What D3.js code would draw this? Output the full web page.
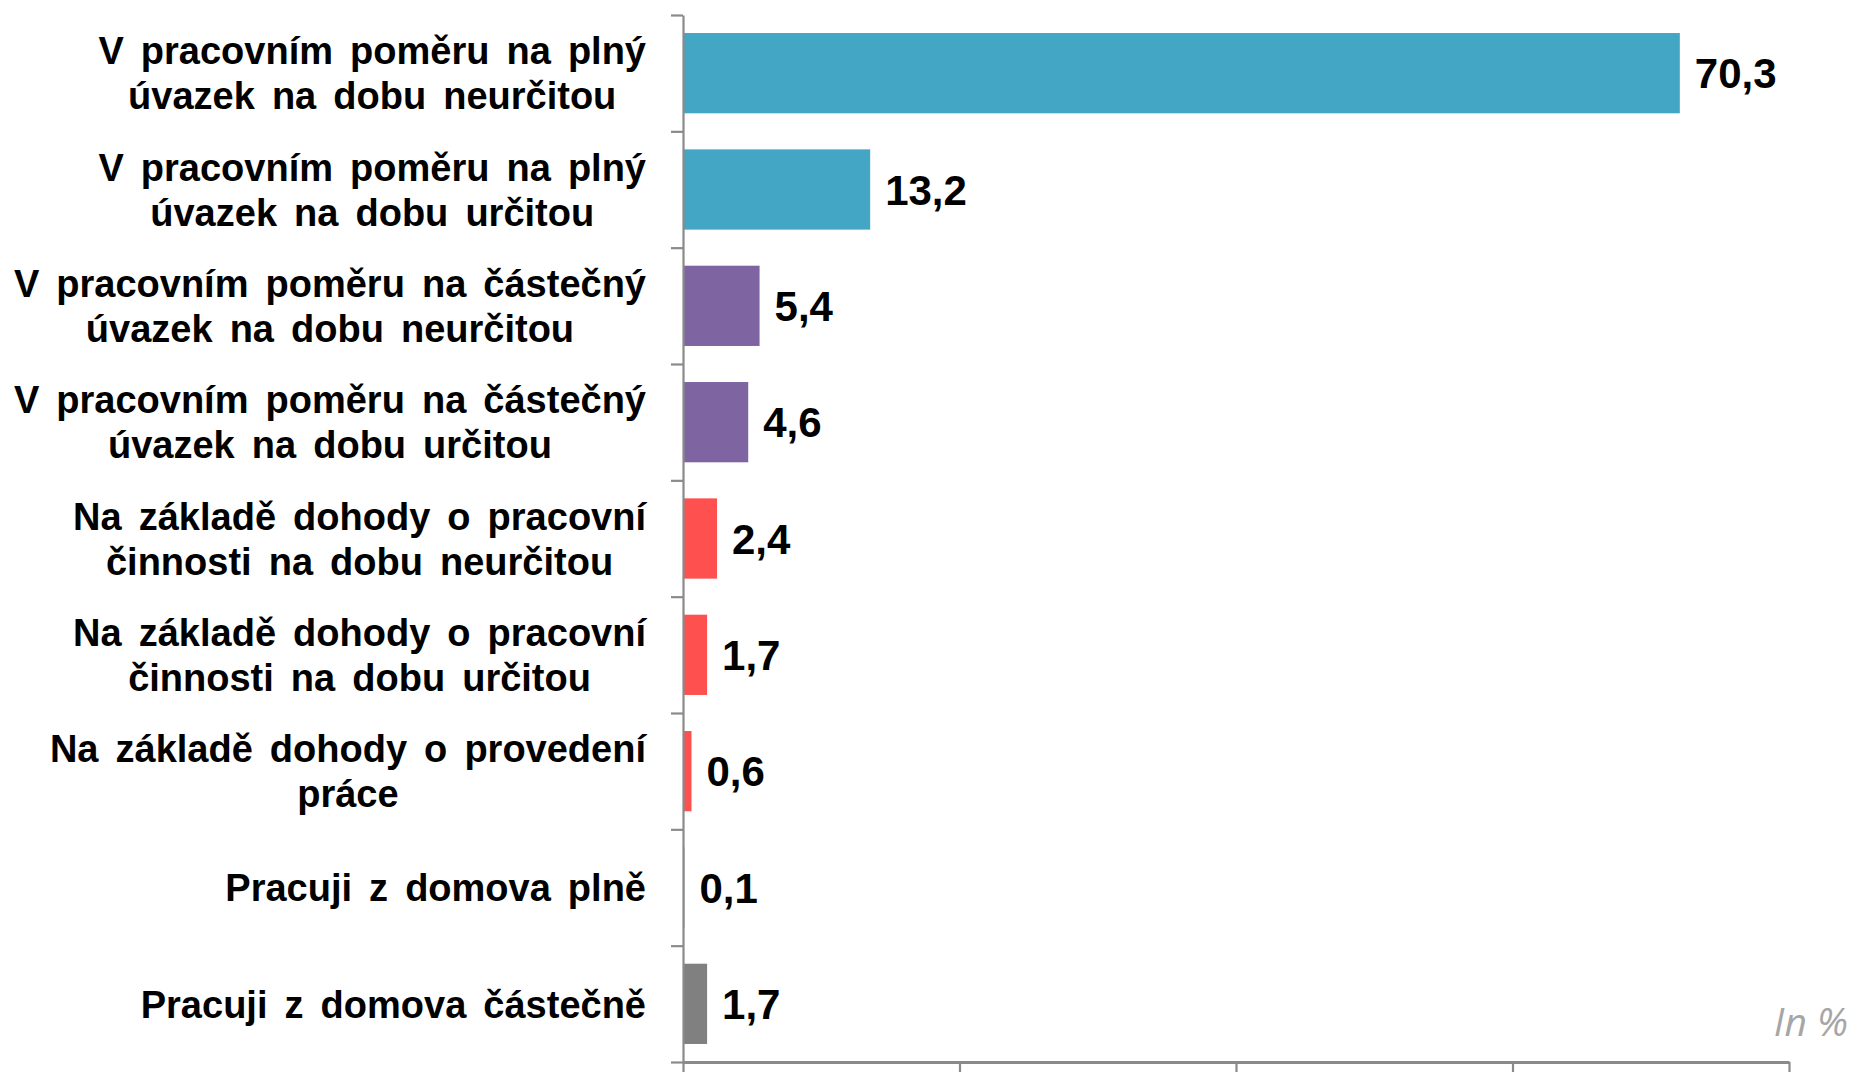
<!DOCTYPE html>
<html>
<head>
<meta charset="utf-8">
<script src="https://cdn.jsdelivr.net/npm/d3@7"></script>
<style>
  html, body { margin: 0; padding: 0; background: #ffffff; }
  svg { display: block; }
</style>
</head>
<body>
<svg id="chart" width="1854" height="1072"></svg>
<script>
// ---- data ----
const categories = [
  ["V pracovním poměru na plný", "úvazek na dobu neurčitou"],
  ["V pracovním poměru na plný", "úvazek na dobu určitou"],
  ["V pracovním poměru na částečný", "úvazek na dobu neurčitou"],
  ["V pracovním poměru na částečný", "úvazek na dobu určitou"],
  ["Na základě dohody o pracovní", "činnosti na dobu neurčitou"],
  ["Na základě dohody o pracovní", "činnosti na dobu určitou"],
  ["Na základě dohody o provedení", "práce"],
  ["Pracuji z domova plně"],
  ["Pracuji z domova částečně"]
];
const values = [70.3, 13.2, 5.4, 4.6, 2.4, 1.7, 0.6, 0.1, 1.7];
const groups = ["full", "full", "part", "part", "agreement", "agreement", "agreement", "home", "home"];
const groupColors = { full: "#42a6c4", part: "#7f64a2", agreement: "#ff5050", home: "#808080" };
const xMax = 78;
const xTickValues = [0, 19.5, 39, 58.5, 78];
const unitLabel = "In %";

// ---- layout ----
const svg = d3.select("#chart");
const x0 = 683, x1 = 1789, yTop = 15, yBottom = 1062;
const axisColor = "#8a8a8a";

const x = d3.scaleLinear().domain([0, xMax]).range([x0, x1]);
const idx = d3.range(categories.length);
const y = d3.scaleBand().domain(idx).range([yTop, yBottom]).paddingInner(0.31).paddingOuter(0.155);
const yEdge = d3.scaleLinear().domain([0, categories.length]).range([yTop, yBottom]);

// bars
svg.append("g").selectAll("rect").data(idx).join("rect")
  .attr("x", x(0))
  .attr("y", i => y(i))
  .attr("width", i => x(values[i]) - x(0))
  .attr("height", y.bandwidth())
  .attr("fill", i => groupColors[groups[i]]);

// y axis (ticks between categories)
const yAxis = svg.append("g").attr("transform", `translate(${x0},0)`)
  .call(d3.axisLeft(yEdge).tickValues(d3.range(categories.length + 1)).tickFormat("").tickSizeInner(12).tickSizeOuter(0));
yAxis.selectAll("path, line").attr("stroke", axisColor).attr("stroke-width", 2.2);

// x axis
const xAxis = svg.append("g").attr("transform", `translate(0,${yBottom})`)
  .call(d3.axisBottom(x).tickValues(xTickValues).tickFormat("").tickSizeInner(12).tickSizeOuter(0));
xAxis.select("path").attr("stroke", axisColor).attr("stroke-width", 3.2);
xAxis.selectAll("line").attr("stroke", axisColor).attr("stroke-width", 2.2);

// value labels
const fmt = d3.format(".1f");
svg.append("g").selectAll("text").data(idx).join("text")
  .attr("x", i => x(values[i]) + 15)
  .attr("y", i => y(i) + y.bandwidth() / 2)
  .attr("dy", "0.36em")
  .attr("font-family", "'Liberation Sans', Arial, sans-serif")
  .attr("font-weight", "bold")
  .attr("font-size", 42)
  .attr("fill", "#000")
  .text(i => fmt(values[i]).replace(".", ","));

// category labels
const labelRight = 646;
const lineH = 45;
const lg = svg.append("g");
idx.forEach(i => {
  const lines = categories[i];
  const cy = y(i) + y.bandwidth() / 2;
  const t = lg.append("text")
    .attr("font-family", "'Liberation Sans', Arial, sans-serif")
    .attr("font-weight", "bold")
    .attr("font-size", 38)
    .attr("word-spacing", 6.5)
    .attr("fill", "#000")
    .attr("text-anchor", "middle");
  const spans = lines.map((s, k) => t.append("tspan")
    .attr("y", cy + (k - (lines.length - 1) / 2) * lineH)
    .attr("dy", "0.36em")
    .text(s));
  const w = d3.max(spans, sp => sp.node().getComputedTextLength());
  spans.forEach(sp => sp.attr("x", labelRight - w / 2));
});

// unit label
svg.append("text")
  .attr("x", 1848).attr("y", 1036)
  .attr("text-anchor", "end")
  .attr("font-family", "'Open Sans', sans-serif")
  .attr("font-style", "italic")
  .attr("font-size", 39)
  .attr("fill", "#a6a6a6")
  .text(unitLabel);
</script>
</body>
</html>
